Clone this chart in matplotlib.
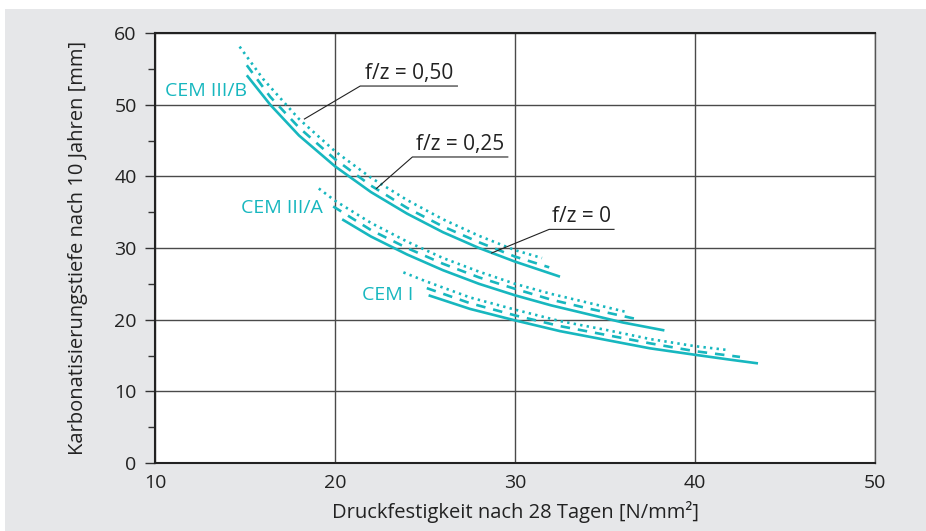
import matplotlib
matplotlib.use("Agg")
import matplotlib.pyplot as plt
from matplotlib.patches import Rectangle

plt.rcParams["font.family"] = ["Open Sans", "DejaVu Sans"]

teal = '#17b7bf'

# CEM III/B (solid: f/z=0, dashed: f/z=0,25, dotted: f/z=0,50)
b_solid_x = [15.1, 16.4, 18.0, 20.0, 22.0, 24.0, 26.0, 28.0, 30.0, 32.5]
b_solid_y = [54.1, 50.0, 45.7, 41.4, 37.8, 34.8, 32.2, 30.0, 28.1, 26.0]
b_dash_x = [15.1, 16.4, 18.0, 20.0, 22.0, 24.0, 26.0, 28.0, 30.0, 31.9]
b_dash_y = [55.5, 51.1, 46.8, 42.4, 38.7, 35.6, 33.0, 30.8, 28.8, 27.3]
b_dot_x = [14.7, 16.0, 18.0, 20.0, 22.0, 24.0, 26.0, 28.0, 30.0, 31.5]
b_dot_y = [58.1, 53.6, 48.0, 43.5, 39.8, 36.7, 34.0, 31.7, 29.7, 28.6]

# CEM III/A
a_solid_x = [20.4, 22.0, 24.0, 26.0, 28.0, 30.0, 32.0, 34.0, 36.0, 38.3]
a_solid_y = [34.0, 31.6, 29.1, 26.9, 25.0, 23.4, 22.0, 20.8, 19.6, 18.5]
a_dash_x = [19.9, 22.0, 24.0, 26.0, 28.0, 30.0, 32.0, 34.0, 36.9]
a_dash_y = [35.8, 32.5, 30.0, 27.8, 25.9, 24.3, 22.8, 21.6, 20.0]
a_dot_x = [19.1, 20.0, 22.0, 24.0, 26.0, 28.0, 30.0, 32.0, 34.0, 36.3]
a_dot_y = [38.3, 36.6, 33.5, 30.9, 28.6, 26.7, 25.0, 23.6, 22.4, 21.0]

# CEM I
i_solid_x = [25.2, 27.5, 30.0, 32.5, 35.0, 37.5, 40.0, 42.0, 43.5]
i_solid_y = [23.4, 21.5, 19.9, 18.4, 17.2, 16.0, 15.1, 14.4, 13.9]
i_dash_x = [25.1, 27.5, 30.0, 32.5, 35.0, 37.5, 40.0, 42.5]
i_dash_y = [24.4, 22.3, 20.6, 19.1, 17.9, 16.7, 15.6, 14.8]
i_dot_x = [23.8, 25.0, 27.5, 30.0, 32.5, 35.0, 37.5, 40.0, 41.7]
i_dot_y = [26.6, 25.4, 23.1, 21.4, 19.8, 18.6, 17.3, 16.3, 15.8]

cem_labels = ['CEM III/B', 'CEM III/A', 'CEM I']
cem_pos = [(10.55, 51.9), (14.8, 35.6), (21.5, 23.4)]

fz_labels = ['f/z = 0,50', 'f/z = 0,25', 'f/z = 0']
fz_text = [(21.4, 52.6, 26.8), (24.3, 42.7, 29.6), (31.9, 32.6, 35.5)]
fz_target = [(18.3, 48.0), (22.3, 38.3), (28.7, 29.3)]

fig = plt.figure(figsize=(9.26, 5.31), dpi=100, facecolor='white')
fig.patches.append(Rectangle((5 / 926, 0), 1, 1 - 9 / 531, transform=fig.transFigure,
                             facecolor='#e6e7e9', edgecolor='none', zorder=-5))
ax = fig.add_axes([155 / 926, 68 / 531, 720 / 926, 430 / 531])
ax.set_facecolor('white')

lw = 1.9
solid = '-'
dash = (0, (3.6, 3.0))
dot = (0, (0.9, 1.6))
for xs, ys, ls in [(b_solid_x, b_solid_y, solid), (b_dash_x, b_dash_y, dash), (b_dot_x, b_dot_y, dot),
                   (a_solid_x, a_solid_y, solid), (a_dash_x, a_dash_y, dash), (a_dot_x, a_dot_y, dot),
                   (i_solid_x, i_solid_y, solid), (i_dash_x, i_dash_y, dash), (i_dot_x, i_dot_y, dot)]:
    ax.plot(xs, ys, color=teal, lw=lw, linestyle=ls, solid_capstyle='butt',
            dash_capstyle='butt', solid_joinstyle='round', zorder=3)

for lab, (x, y) in zip(cem_labels, cem_pos):
    ax.text(x, y, lab, color=teal, fontsize=14, va='center', ha='left', zorder=4)

for lab, (x0, y0, x1), (tx, ty) in zip(fz_labels, fz_text, fz_target):
    ax.plot([tx, x0, x1], [ty, y0, y0], color='#222222', lw=0.8, zorder=4)
    ax.text((x0 + x1) / 2, y0 + 0.3, lab, fontsize=15, ha='center', va='bottom', color='#222222', zorder=4)

ax.set_xlim(10, 50)
ax.set_ylim(0, 60)
ax.set_xticks([10, 20, 30, 40, 50])
ax.set_yticks([0, 10, 20, 30, 40, 50, 60])
ax.set_yticks([5, 15, 25, 35, 45, 55], minor=True)
ax.grid(True, color='#4a4a4a', lw=1.0, zorder=1)
ax.tick_params(axis='y', which='major', length=7.2, width=1, color='#333333', labelsize=14, pad=6, labelcolor='#222222')
ax.tick_params(axis='y', which='minor', length=5.3, width=1, color='#333333')
ax.tick_params(axis='x', length=0, labelsize=14, pad=8, labelcolor='#222222')
for s in ['left', 'bottom', 'top']:
    ax.spines[s].set_color('#222222')
    ax.spines[s].set_linewidth(1.5)
ax.spines['right'].set_color('#555555')
ax.spines['right'].set_linewidth(1.0)

xl = ax.set_xlabel('Druckfestigkeit nach 28 Tagen [N/mm²]', fontsize=14.5, color='#222222')
yl = ax.set_ylabel('Karbonatisierungstiefe nach 10 Jahren [mm]', fontsize=14.5, color='#222222')
xl.set_verticalalignment('center')
yl.set_verticalalignment('center')
ax.xaxis.set_label_coords(0.5, -0.114)
ax.yaxis.set_label_coords(-0.107, 0.5)

fig.savefig('out.png', dpi=100, facecolor=fig.get_facecolor())
